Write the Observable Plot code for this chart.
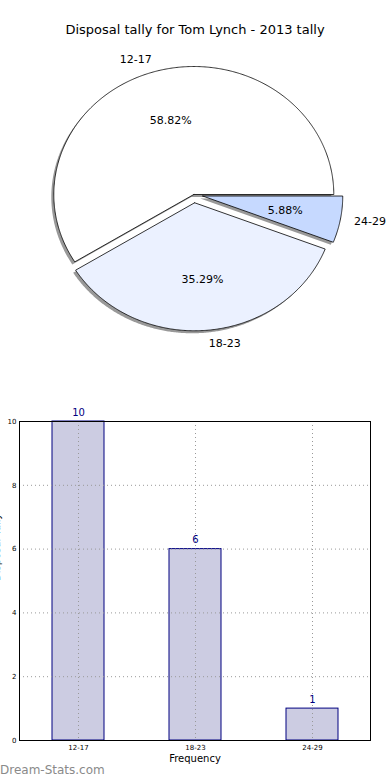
<!DOCTYPE html>
<html><head><meta charset="utf-8">
<script src="https://cdn.jsdelivr.net/npm/d3@7"></script>
<script src="https://cdn.jsdelivr.net/npm/@observablehq/plot@0.6"></script>
<style>
body{margin:0;background:#fff;font-family:"DejaVu Sans",sans-serif;}
#wrap{position:relative;width:390px;height:780px;overflow:hidden;background:#fff;}
#pie{position:absolute;top:0;left:0;}
#bar{position:absolute;top:390px;left:0;}
#title{position:absolute;top:22px;left:0;width:390px;text-align:center;font-size:13px;color:#000;}
#wm{position:absolute;left:0;top:763px;font-size:12px;color:#8a8a8a;}
</style></head><body>
<div id="wrap">
<div id="pie"></div>
<div id="bar"></div>
<div id="title">Disposal tally for Tom Lynch - 2013 tally</div>
<div id="wm">Dream-Stats.com</div>
</div>
<script>
const categories = ["12-17", "18-23", "24-29"];
const tally = [10, 6, 1];
const pieColors = ["#ffffff", "#ebf1ff", "#c6d9ff"];
const explode = [0, 0.065, 0.065];
const yTicks = [0, 2, 4, 6, 8, 10];

const total = d3.sum(tally);
let a0 = 0;
const slices = categories.map((c, i) => {
  const frac = tally[i] / total;
  const start = a0, end = a0 + frac * 2 * Math.PI; a0 = end;
  const mid = (start + end) / 2;
  const e = explode[i];
  const ox = e * Math.cos(mid), oy = e * Math.sin(mid);
  const pts = [{x: ox, y: oy}];
  const n = Math.max(4, Math.ceil((end - start) / (Math.PI / 360)));
  for (let k = 0; k <= n; k++) {
    const t = start + (end - start) * k / n;
    pts.push({x: ox + Math.cos(t), y: oy + Math.sin(t)});
  }
  pts.push({x: ox, y: oy});
  return {
    c, pct: (frac * 100).toFixed(2) + "%", color: pieColors[i], pts,
    lx: (1.1 + e) * Math.cos(mid), ly: (1.1 + e) * Math.sin(mid),
    px: (0.6 + e) * Math.cos(mid), py: (0.6 + e) * Math.sin(mid)
  };
});

const cx = 193.3, cy = 194, rx = 140, ry = 128, W = 390, H = 390;
const pieMarks = [];
slices.forEach(s => pieMarks.push(Plot.line(s.pts, {x: "x", y: "y", fill: "#999", stroke: "none", dx: -2.5, dy: 2.5})));
slices.forEach(s => pieMarks.push(Plot.line(s.pts, {x: "x", y: "y", fill: s.color, stroke: "#000", strokeWidth: 0.8, strokeLinejoin: "miter"})));
pieMarks.push(Plot.text(slices.filter(s => s.lx < 0), {x: "lx", y: "ly", text: "c", textAnchor: "end", fontSize: 11}));
pieMarks.push(Plot.text(slices.filter(s => s.lx >= 0), {x: "lx", y: "ly", text: "c", textAnchor: "start", fontSize: 11}));
pieMarks.push(Plot.text(slices, {x: "px", y: "py", text: "pct", fontSize: 11}));

const pie = Plot.plot({
  width: W, height: H, margin: 0,
  style: {fontFamily: "DejaVu Sans", background: "transparent"},
  x: {domain: [-cx / rx, (W - cx) / rx], axis: null},
  y: {domain: [-(H - cy) / ry, cy / ry], axis: null},
  marks: pieMarks
});
document.getElementById("pie").appendChild(pie);

const barData = categories.map((c, i) => ({cat: c, n: tally[i]}));
const bar = Plot.plot({
  width: 390, height: 390,
  marginTop: 31, marginBottom: 40, marginLeft: 19, marginRight: 20,
  style: {fontFamily: "DejaVu Sans", background: "transparent"},
  x: {domain: categories, paddingInner: 0.556, paddingOuter: 0.278, label: null},
  y: {domain: [0, 10], label: null},
  marks: [
    Plot.barY(barData, {x: "cat", y: "n", fill: "#cccce2", stroke: "#000080", strokeWidth: 1}),
    Plot.gridY(yTicks, {stroke: "#999", strokeOpacity: 1, strokeDasharray: "1,3"}),
    Plot.gridX(categories, {stroke: "#999", strokeOpacity: 1, strokeDasharray: "1,3"}),
    Plot.frame({stroke: "#000", strokeWidth: 1}),
    Plot.axisY(yTicks, {tickSize: 0, tickPadding: 3, fontSize: 7, label: null}),
    Plot.axisX({tickSize: 0, tickPadding: 5, fontSize: 7, label: null}),
    Plot.text(barData, {x: "cat", y: "n", text: d => String(d.n), dy: -9, fill: "#000080", fontSize: 10}),
    Plot.text(["Frequency"], {frameAnchor: "bottom", dy: 21, fontSize: 10, fill: "#000"}),
    Plot.text(["Disposal Tally"], {frameAnchor: "left", rotate: -90, dx: -23, fontSize: 10, fill: "#000"})
  ]
});
document.getElementById("bar").appendChild(bar);
</script>
</body></html>
